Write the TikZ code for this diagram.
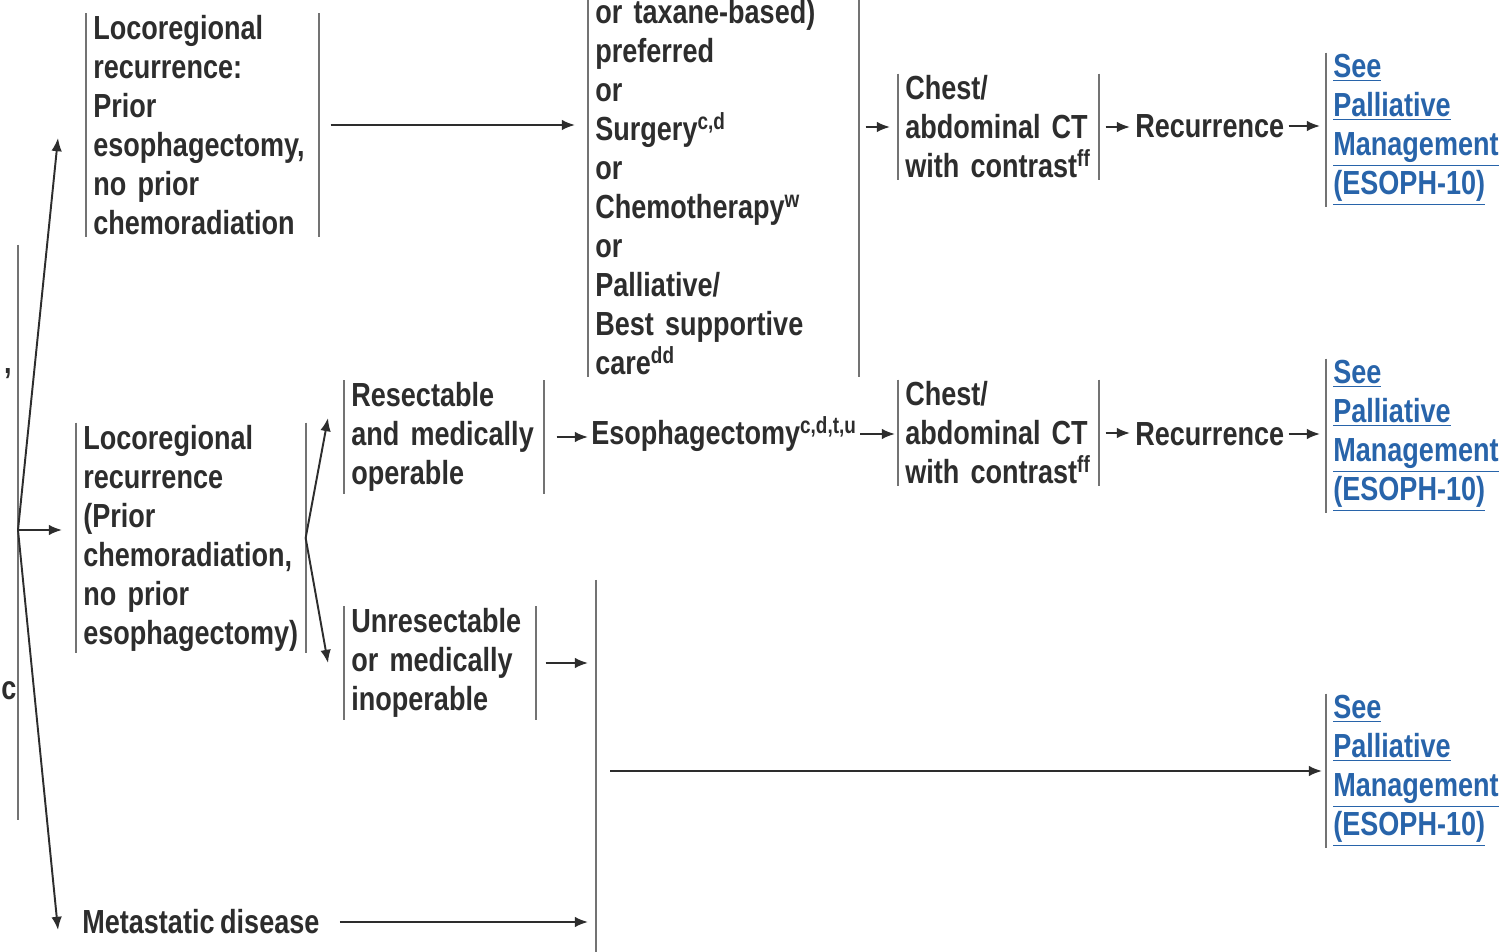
\documentclass[tikz,border=0pt]{standalone}
\usepackage{fontspec}
\setmainfont{Liberation Sans}[FakeStretch=0.81,WordSpace=0.75]
\usetikzlibrary{arrows.meta,calc}
\definecolor{linkblue}{RGB}{40,100,170}
\definecolor{ink}{RGB}{45,45,45}
\tikzset{
  bar/.style={line width=1.1pt,black!55},
  arr/.style={line width=1.1pt,ink,-{Latex[length=7.5pt,width=6pt]}},
  box/.style={inner xsep=0.14cm,inner ysep=1pt,align=left,text=ink,anchor=west},
  link/.style={box,text=linkblue},
}
% bars left and right of a box, or left only
\newcommand\twobars[1]{\draw[bar] (#1.north west)--(#1.south west) (#1.north east)--(#1.south east);}
\newcommand\onebar[1]{\draw[bar] (#1.north west)--(#1.south west);}
\begin{document}
\begin{tikzpicture}[x=0.02cm,y=-0.02cm,font=\fontsize{19pt}{22.2pt}\selectfont\bfseries]
  \fill[white] (0,0) rectangle (1499,952);
  \useasboundingbox (0,0) rectangle (1499,952);
  % first row
  \node[box,text width=4.36cm] (prior) at (86,125) {Locoregional\\recurrence:\\Prior\\esophagectomy,\\no prior\\chemoradiation};
  \node[box,text width=5.12cm,anchor=south west] (therapy) at (588,377) {or taxane-based)\\preferred\\or\\Surgery\textsuperscript{c,d}\\or\\Chemotherapy\textsuperscript{w}\\or\\Palliative/\\Best supportive\\care\textsuperscript{dd}};
  \node[box,text width=3.72cm] (ct1) at (898,127) {Chest/\\abdominal CT\\with contrast\textsuperscript{ff}};
  \node[box,inner xsep=0pt] (rec1) at (1135,126) {Recurrence};
  \node[link] (pal1) at (1326,130) {\underline{See}\\\underline{Palliative}\\\underline{Management}\\\underline{(ESOPH-10)}};
  % second row
  \node[box,text width=4.3cm] (prior2) at (76,538) {Locoregional\\recurrence\\(Prior\\chemoradiation,\\no prior\\esophagectomy)};
  \node[box,text width=3.7cm] (resect) at (344,437) {Resectable\\and medically\\operable};
  \node[box,inner xsep=0pt] (esoph) at (591,434) {Esophagectomy\textsuperscript{c,d,t,u}};
  \node[box,text width=3.72cm] (ct2) at (898,433) {Chest/\\abdominal CT\\with contrast\textsuperscript{ff}};
  \node[box,inner xsep=0pt] (rec2) at (1135,434) {Recurrence};
  \node[link] (pal2) at (1326,436) {\underline{See}\\\underline{Palliative}\\\underline{Management}\\\underline{(ESOPH-10)}};
  \node[box,text width=3.54cm] (unres) at (344,663) {Unresectable\\or medically\\inoperable};
  \node[link] (pal3) at (1326,771) {\underline{See}\\\underline{Palliative}\\\underline{Management}\\\underline{(ESOPH-10)}};
  \node[box,inner xsep=0pt] (meta) at (82,922) {Metastatic disease};
  % text of the previous column, at the left edge
  \node[box,inner sep=0pt,anchor=base east] (frag1) at (12,374) {,};
  \node[box,inner sep=0pt,anchor=base west] (frag2) at (1,700) {c};
  \coordinate (trunktop) at (18,245);
  \coordinate (trunkbot) at (18,820);
  \coordinate (fan) at (18,530);
  \coordinate (jtop) at (596,580);
  \coordinate (jbot) at (596,960);
  % bars
  \twobars{prior} \twobars{therapy} \twobars{ct1} \onebar{pal1}
  \twobars{prior2} \twobars{resect} \twobars{ct2} \onebar{pal2}
  \twobars{unres} \onebar{pal3}
  \draw[bar] (trunktop) -- (trunkbot);
  \draw[bar] (jtop) -- (jbot);
  % arrows
  \draw[arr] (fan) -- ([xshift=-0.56cm,yshift=-0.26cm]prior.west);
  \draw[arr,shorten >=0.28cm] (fan) -- (fan -| prior2.west);
  \draw[arr] (fan) -- ([xshift=-0.48cm,yshift=-0.16cm]meta.west);
  \draw[arr,shorten <=0.24cm,shorten >=0.26cm] (prior.east) -- (prior.east -| therapy.west);
  \draw[arr,shorten <=0.14cm,shorten >=0.16cm] (ct1.west -| therapy.east) -- (ct1.west);
  \draw[arr,shorten <=0.14cm,shorten >=0.1cm] (ct1.east) -- (ct1.east -| rec1.west);
  \draw[arr,shorten <=0.08cm,shorten >=0.12cm] (rec1.east) -- (rec1.east -| pal1.west);
  \draw[arr] (prior2.east) -- ([xshift=-0.32cm,yshift=0.38cm]resect.west);
  \draw[arr] (prior2.east) -- ([xshift=-0.32cm]unres.west);
  \draw[arr,shorten <=0.26cm,shorten >=0.06cm] (resect.east) -- (resect.east -| esoph.west);
  \draw[arr,shorten <=0.06cm,shorten >=0.06cm] (esoph.east) -- (esoph.east -| ct2.west);
  \draw[arr,shorten <=0.14cm,shorten >=0.1cm] (ct2.east) -- (ct2.east -| rec2.west);
  \draw[arr,shorten <=0.08cm,shorten >=0.12cm] (rec2.east) -- (rec2.east -| pal2.west);
  \draw[arr,shorten <=0.2cm,shorten >=0.16cm] (unres.east) -- (unres.east -| jtop);
  \draw[arr,shorten <=0.28cm,shorten >=0.08cm] (pal3.west -| jtop) -- (pal3.west);
  \draw[arr,shorten <=0.4cm,shorten >=0.16cm] (meta.east) -- (meta.east -| jtop);
\end{tikzpicture}
\end{document}
